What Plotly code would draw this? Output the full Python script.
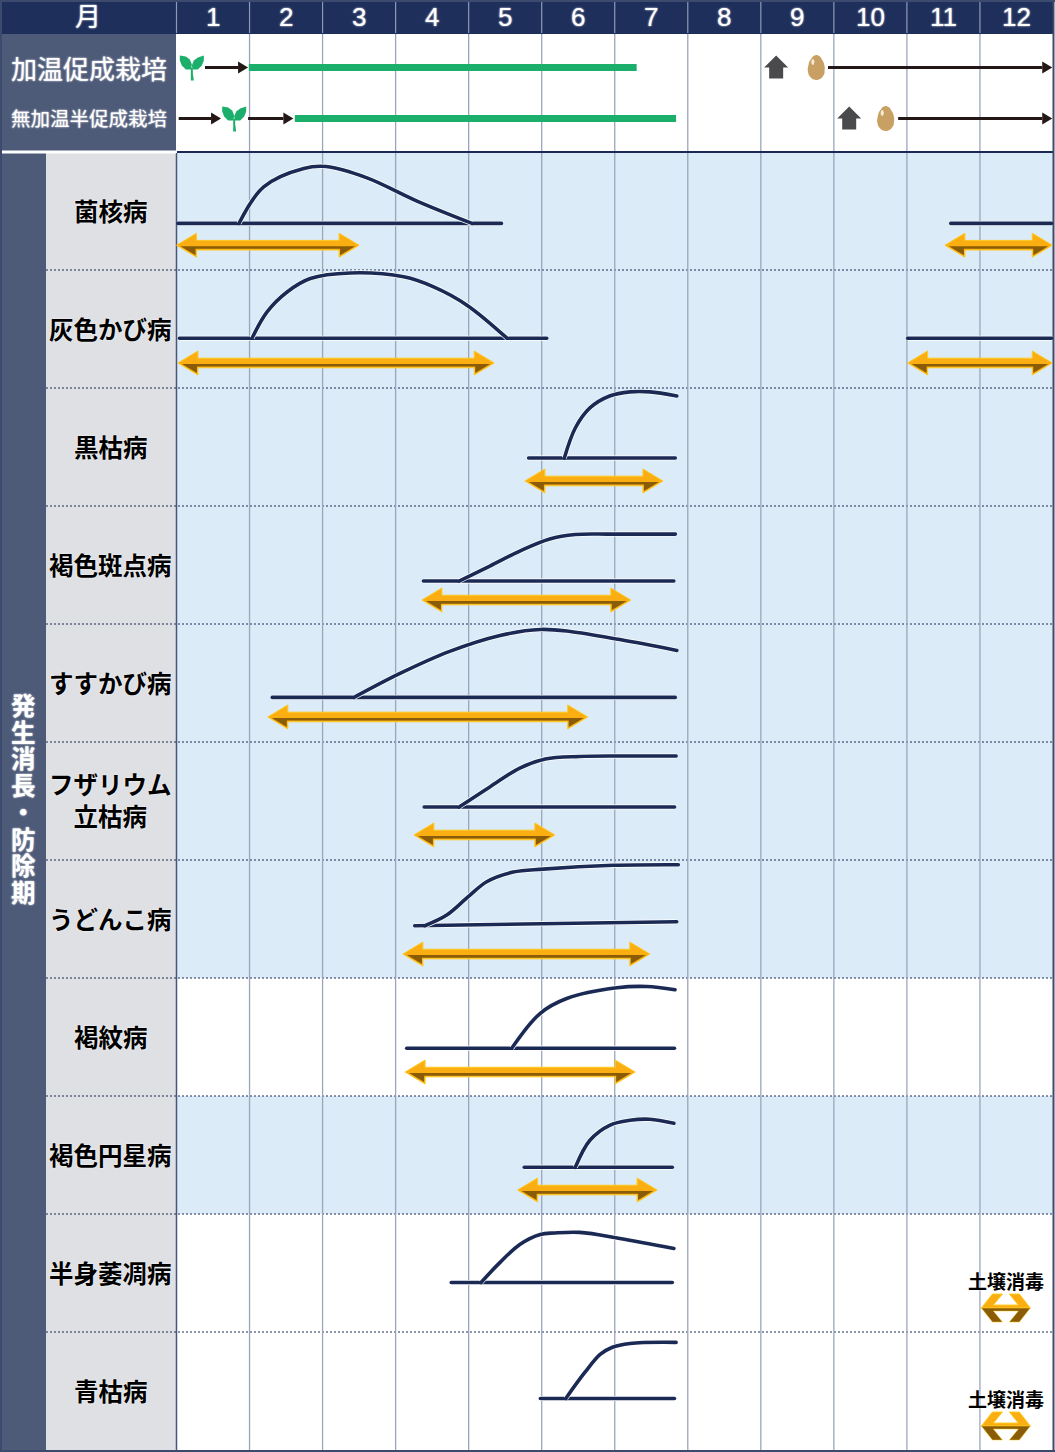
import numpy as np
import plotly.graph_objects as go

W, H = 1055, 1452
MONTH_PX, ROW_PX = 73.04, 118.0
X0_PX, Y0_PX = 176.5, 152.0

# ---------- data ----------
months = [str(m) for m in range(1, 13)]
crop_labels = ["加温促成栽培", "無加温半促成栽培"]
side_label = "発生消長・防除期"
diseases = ["菌核病", "灰色かび病", "黒枯病", "褐色斑点病", "すすかび病", "フザリウム<br>立枯病",
            "うどんこ病", "褐紋病", "褐色円星病", "半身萎凋病", "青枯病"]
shaded_rows = [True, True, True, True, True, True, True, False, True, False, False]

# crop calendar, in months from the start of January
crop_seedling = [0.21, 0.79]
crop_house = [8.21, 9.21]
crop_egg = [8.76, 9.71]
crop_bar_start = [0.99, 1.62]
crop_bar_end = [6.30, 6.84]
crop_arrows = [[(0.39, 0.98), (8.92, 11.99)], [(0.03, 0.61), (0.98, 1.60), (9.88, 11.99)]]

# baseline level within the row (0 top, 1 bottom)
base_level = [0.605, 0.578, 0.593, 0.636, 0.622, 0.551, 0.557, 0.595, 0.604, 0.58, 0.563]
# baseline spans per disease (month start, month end)
base_spans = [[(0, 4.47), (10.58, 12)], [(0.02, 5.09), (9.99, 12)], [(4.80, 6.85)], [(3.36, 6.83)],
              [(1.29, 6.85)], [(3.37, 6.84)], [(3.24, 6.87)], [(3.13, 6.84)], [(4.74, 6.81)],
              [(3.74, 6.81)], [(4.96, 6.84)]]
base_rise_end = [0, 0, 0, 0, 0, 0, 0.034, 0, 0, 0, 0]  # うどんこ病 baseline tilts upward

curve_x = [
    [0.856, 1.194, 1.742, 2.05, 2.608, 3.293, 4.046],
    [1.034, 1.24, 1.514, 1.832, 2.38, 3.11, 3.52, 3.977, 4.525],
    [5.31, 5.46, 5.66, 5.93, 6.21, 6.48, 6.85],
    [3.87, 4.29, 4.70, 5.11, 5.46, 5.93, 6.83],
    [2.43, 3.06, 3.74, 4.43, 4.98, 5.39, 6.07, 6.85],
    [3.87, 4.29, 4.70, 5.05, 5.52, 6.07, 6.84],
    [3.40, 3.70, 3.995, 4.247, 4.61, 5.02, 5.98, 6.87],
    [4.59, 4.977, 5.342, 6.03, 6.437, 6.825],
    [5.46, 5.66, 5.93, 6.21, 6.48, 6.81],
    [4.17, 4.43, 4.70, 4.98, 5.18, 5.52, 6.07, 6.81],
    [5.33, 5.59, 5.80, 5.96, 6.21, 6.84],
]
curve_h = [
    [0, .31, .466, .482, .386, .189, 0],
    [0, .223, .392, .506, .553, .52, .435, .28, 0],
    [0, .254, .424, .525, .56, .56, .525],
    [0, .127, .254, .356, .394, .398, .398],
    [0, .203, .39, .525, .576, .559, .49, .398],
    [0, .17, .33, .407, .428, .432, .432],
    [0, .09, .246, .373, .455, .48, .512, .517],
    [0, .294, .421, .512, .523, .495],
    [0, .229, .356, .398, .407, .373],
    [0, .17, .322, .407, .419, .424, .373, .288],
    [0, .22, .373, .432, .466, .475],
]

# control periods
arrow_level = [0.79, 0.788, 0.788, 0.797, 0.788, 0.788, 0.797, 0.797, 0.797]
arrow_spans = [[(0, 2.5), (10.52, 11.99)], [(0.02, 4.35), (10.01, 11.99)], [(4.77, 6.66)], [(3.36, 6.22)],
               [(1.25, 5.63)], [(3.25, 5.18)], [(3.10, 6.48)], [(3.13, 6.28)], [(4.67, 6.58)]]
soil_rows = [9, 10]
soil_label = "土壌消毒"
soil_span = (11.02, 11.69)

# ---------- colours ----------
NAVY, HEAD, SLATE, GREY = "#1B2A55", "#1E2F5B", "#4D5A78", "#DFE0E4"
SKY, GRID, GREEN, BLACK = "#DBEBF8", "#9BA6BD", "#1BAF6B", "#231815"
GOLD, BROWN, EDGE = "#FBAE12", "#8A5C08", "#FFC91F"
FONT = "Noto Sans CJK JP"
FONT_TIGHT = "Liberation Sans, " + FONT

# px <-> axis helpers (only layout furniture and glyph offsets)
xp = lambda p: (p - X0_PX) / MONTH_PX
yp = lambda p: (p - Y0_PX) / ROW_PX
dx = lambda p: p / MONTH_PX
dy = lambda p: p / ROW_PX

fig = go.Figure()
shapes = []


def rect(x0, y0, x1, y1, color):
    shapes.append(dict(type="rect", xref="x", yref="y", x0=xp(x0), x1=xp(x1), y0=yp(y0), y1=yp(y1),
                       fillcolor=color, line_width=0, layer="below"))


def vline(x, y0, y1, color, w=1, dash="solid"):
    shapes.append(dict(type="line", xref="x", yref="y", x0=xp(x), x1=xp(x), y0=yp(y0), y1=yp(y1),
                       line=dict(color=color, width=w, dash=dash), layer="below"))


def hline(y, x0, x1, color, w=1, dash="solid"):
    shapes.append(dict(type="line", xref="x", yref="y", x0=xp(x0), x1=xp(x1), y0=yp(y), y1=yp(y),
                       line=dict(color=color, width=w, dash=dash), layer="below"))


def poly(xs, ys, color, edge=None, ew=0.0):
    fig.add_trace(go.Scatter(x=xs, y=ys, mode="lines", fill="toself", fillcolor=color,
                             line=dict(color=edge or color, width=ew), hoverinfo="skip", showlegend=False))


def glyph(cx, cy, pts, color, **kw):
    poly([cx + dx(a) for a, b in pts] + [cx + dx(pts[0][0])],
         [cy + dy(b) for a, b in pts] + [cy + dy(pts[0][1])], color, **kw)


def line(xs, ys, color, w, shape="linear", smoothing=0):
    ln = dict(color=color, width=w)
    if shape == "spline":
        ln.update(shape="spline", smoothing=smoothing)
    fig.add_trace(go.Scatter(x=xs, y=ys, mode="lines", line=ln, hoverinfo="skip", showlegend=False))


def gold_arrow(x0, x1, y):
    hl, hh, sh = dx(20), dy(12), dy(4.8)
    top = [(x0, y), (x0 + hl, y - hh), (x0 + hl, y - sh), (x1 - hl, y - sh), (x1 - hl, y - hh), (x1, y)]
    bot = [(x0, y), (x0 + hl, y + hh), (x0 + hl, y + sh), (x1 - hl, y + sh), (x1 - hl, y + hh), (x1, y)]
    outline = top + bot[::-1]
    poly([p[0] for p in outline] + [x0], [p[1] for p in outline] + [y], GOLD, edge=EDGE, ew=1)
    lower = [(x0 + dx(4), y + dy(1)), (x0 + hl - dx(1), y + hh - dy(2)), (x0 + hl - dx(1), y + dy(3.6)),
             (x1 - hl + dx(1), y + dy(3.6)), (x1 - hl + dx(1), y + hh - dy(2)), (x1 - dx(4), y + dy(1))]
    poly([p[0] for p in lower] + [lower[0][0]], [p[1] for p in lower] + [lower[0][1]], BROWN)


def chevron_arrow(x0, x1, y):
    hi, lo = dy(14), dy(3)
    a, b, c = dx(11), dx(21), dx(12)
    top = [(x0, y), (x0 + a, y - hi), (x0 + b, y - hi), (x0 + c, y - lo), (x1 - c, y - lo),
           (x1 - b, y - hi), (x1 - a, y - hi), (x1, y)]
    bot = [(x0, y), (x0 + a, y + hi), (x0 + b, y + hi), (x0 + c, y + lo), (x1 - c, y + lo),
           (x1 - b, y + hi), (x1 - a, y + hi), (x1, y)]
    poly([p[0] for p in top] + [x0], [p[1] for p in top] + [y], GOLD, edge=EDGE, ew=1)
    poly([p[0] for p in bot] + [x0], [p[1] for p in bot] + [y], BROWN, edge=EDGE, ew=0.5)


def black_arrow(x0, x1, y):
    hl = dx(10)
    line([x0, x1 - hl], [y, y], BLACK, 3.2)
    poly([x1 - hl, x1, x1 - hl, x1 - hl], [y - dy(6), y, y + dy(6), y - dy(6)], BLACK)


def sprout(cx, cy):
    glyph(cx, cy, [(-12, -12), (-6, -11), (-2, -8), (0, -3), (-1, 2), (-6, 2), (-10, -2), (-12, -7)], GREEN)
    glyph(cx, cy, [(12, -12), (6, -10), (2, -7), (0, -2), (1, 2), (6, 2), (10, -2), (12, -7)], GREEN)
    glyph(cx, cy, [(-1, 0), (1, 0), (1, 6), (2, 13), (-1, 13), (-1, 6)], GREEN)


def house(cx, cy):
    glyph(cx, cy, [(0, -12), (12, 0), (7, 0), (7, 11), (-7, 11), (-7, 0), (-12, 0)], "#4A4A4C")


def egg(cx, cy):
    t = np.linspace(0, 2 * np.pi, 40)
    ex = 8.5 * np.cos(t) * (1 + 0.16 * np.sin(t))
    ey = 12.5 * np.sin(t)
    glyph(cx, cy, list(zip(ex, ey)), "#C9A063")
    glyph(cx, cy, list(zip(1.6 * np.cos(t) - 3.5, 3 * np.sin(t) - 5.5)), "#F6EBD8")


# ---------- frame and backgrounds ----------
rect(0, 0, W, H, "#FFFFFF")
rect(1, 2, 1054, 34, HEAD)
rect(2, 34, 176, 151, SLATE)
rect(2, 153, 46, 1450, SLATE)
rect(46, 153, 176, 1450, GREY)
for i, sh in enumerate(shaded_rows):
    if sh:
        rect(177, Y0_PX + i * ROW_PX, 1053, Y0_PX + (i + 1) * ROW_PX, SKY)
for i in range(1, 11):
    hline(Y0_PX + i * ROW_PX, 46, 1053, NAVY, 1, "2px,2px")
for m in range(1, 12):
    px = X0_PX + m * MONTH_PX
    vline(px, 34, 1450, GRID, 1.3)
    vline(px, 2, 33, "#8E9AB5", 1.2)
vline(176.5, 2, 33, "#8E9AB5", 1.2)
vline(176.5, 153, 1450, "#4A5678", 1.5)
hline(152, 177, 1054, NAVY, 2)
hline(152, 2, 176, "#FFFFFF", 3)
vline(1053.5, 2, 1451, "#3C4A6E", 2)
vline(1, 0, 1452, "#3C4A6E", 2)
hline(1451, 0, 1055, "#3C4A6E", 2)
hline(1, 0, 1055, "#3C4A6E", 2)

# ---------- crop calendar ----------
crop_y = [yp(67.5), yp(118.5)]
for i in range(2):
    for a, b in crop_arrows[i]:
        black_arrow(a, b, crop_y[i])
    line([crop_bar_start[i], crop_bar_end[i]], [crop_y[i], crop_y[i]], GREEN, 7)
    sprout(crop_seedling[i], crop_y[i])
    house(crop_house[i], crop_y[i])
    egg(crop_egg[i], crop_y[i])

# ---------- disease rows ----------
cap = dx(1.6)  # round line caps reach past the line's end
for r in range(len(diseases)):
    lvl = r + base_level[r]
    for a, b in base_spans[r]:
        ys = [lvl, lvl - base_rise_end[r]]
        line([a + cap, b - cap], ys, "#FFFFFF", 5)
        line([a + cap, b - cap], ys, NAVY, 3.6)
    cy = [lvl - h for h in curve_h[r]]
    line(curve_x[r], cy, "#FFFFFF", 5, "spline", 1.0)
    line(curve_x[r], cy, NAVY, 3.6, "spline", 1.0)
for r, spans in enumerate(arrow_spans):
    for a, b in spans:
        gold_arrow(a, b, r + arrow_level[r])
for r in soil_rows:
    chevron_arrow(soil_span[0], soil_span[1], r + 0.797)

# ---------- text ----------
ann = []


def text(x, y, s, size, color, bold=True, family=FONT, halo=None):
    f = dict(family=family, size=size, color=color)
    if bold:
        f["weight"] = 700
    if halo:
        f["shadow"] = f"0 0 2px {halo}"
    ann.append(dict(x=x, y=y, xref="x", yref="y", text=s, showarrow=False, font=f,
                    xanchor="center", yanchor="middle", align="center"))


text(xp(88), yp(17), "月", 26, "#FFFFFF", bold=False, family=FONT_TIGHT, halo="#FFFFFF")
for i, m in enumerate(months):
    text(i + 0.5, yp(17), m, 26, "#FFFFFF", bold=False, family="Liberation Sans", halo="#FFFFFF")
text(xp(89), yp(67.5), crop_labels[0], 26, "#FFFFFF", bold=False, halo="#FFFFFF")
text(xp(89), yp(117), crop_labels[1], 19.5, "#FFFFFF", bold=False, halo="#FFFFFF")
for i, ch in enumerate(side_label):
    text(xp(23), yp(706.5 + i * 26.7), ch, 24.5, "#FFFFFF", family=FONT_TIGHT, halo="#FFFFFF")
for r, name in enumerate(diseases):
    text(xp(110.5), r + 0.5 - dy(1) + (dy(-1) if "<br>" in name else 0), name, 24.5, "#000000", halo="#FFFFFF")
for r in soil_rows:
    text(xp(1005.5), r + (1280 - 1214) / ROW_PX, soil_label, 19, "#000000", halo="#FFFFFF")

fig.update_layout(
    width=W, height=H, margin=dict(l=0, r=0, t=0, b=0), paper_bgcolor="#FFFFFF", plot_bgcolor="#FFFFFF",
    showlegend=False, shapes=shapes, annotations=ann, hovermode=False,
    xaxis=dict(range=[xp(0), xp(W)], visible=False, fixedrange=True),
    yaxis=dict(range=[yp(H), yp(0)], visible=False, fixedrange=True),
)
fig.write_html("out.html", config=dict(displayModeBar=False),
               post_script="document.body.style.margin='0';document.documentElement.style.overflow='hidden';"
                           "document.querySelectorAll('.scatterlayer .js-line').forEach(function(e){"
                           "if(e.style.stroke.indexOf('27, 42, 85')>=0){e.style.strokeLinecap='round';}});")
